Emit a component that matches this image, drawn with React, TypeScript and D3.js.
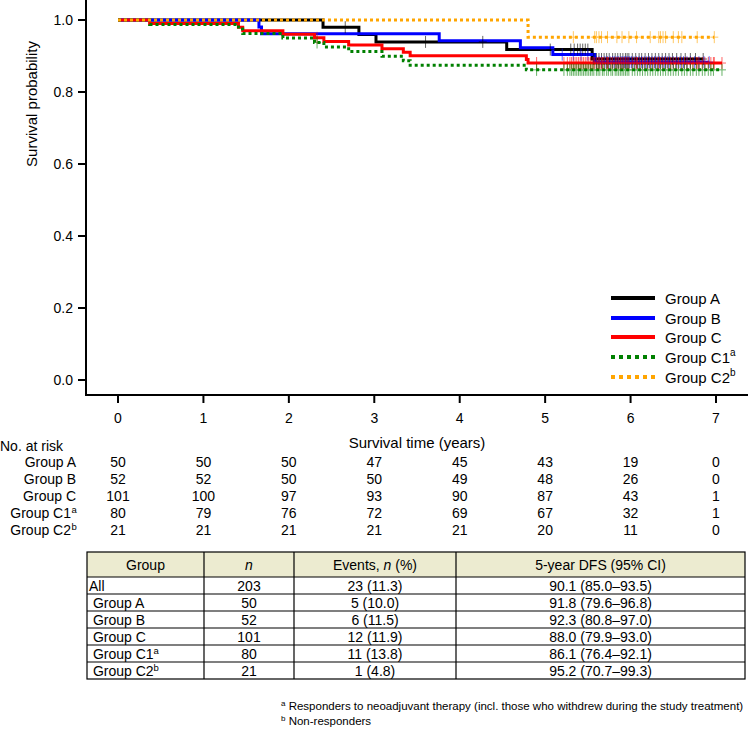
import React from "react";
import * as d3 from "d3";

// ---------- data ----------
const groupNames = ["Group A", "Group B", "Group C", "Group C1", "Group C2"];
const groupSups = ["", "", "", "a", "b"];
const groupColors = ["#000000", "#0000ff", "#ff0000", "#008000", "#ffa500"];
const groupDotted = [false, false, false, true, true];

const eventsA = [2.40, 2.82, 3.02, 4.55, 5.55];
const censorA = [2.66, 3.60, 4.27,
  5.06, 5.30, 5.34, 5.38, 5.41, 5.44, 5.47, 5.50, 5.57, 5.60, 5.63, 5.66, 5.69, 5.72, 5.75, 5.79, 5.82, 5.85, 5.88, 5.91, 5.94, 5.96, 5.98,
  6.02, 6.06, 6.10, 6.13, 6.17, 6.21, 6.25, 6.29, 6.33, 6.37, 6.41, 6.45, 6.49, 6.54, 6.59, 6.64, 6.70, 6.76, 6.85];

const eventsB = [1.65, 1.68, 3.76, 4.71, 5.09, 5.58];
const censorB = [5.20, 5.33, 5.42, 5.50,
  5.60, 5.63, 5.66, 5.70, 5.73, 5.76, 5.79, 5.81, 5.84, 5.86, 5.89, 5.91, 5.93, 5.95, 5.97, 5.99,
  6.01, 6.04, 6.07, 6.10, 6.13, 6.16, 6.19, 6.22, 6.25, 6.28, 6.31, 6.34, 6.37, 6.40, 6.43, 6.46, 6.50, 6.54, 6.58, 6.62, 6.66, 6.70, 6.75, 6.80, 6.86, 6.92];

const eventsC1 = [0.37, 1.41, 1.46, 1.93, 2.30, 2.41, 2.70, 3.09, 3.34, 3.42, 4.78];
const censorC1 = [2.33, 4.90,
  5.22, 5.26, 5.29, 5.31, 5.33, 5.35, 5.37, 5.39, 5.41, 5.43, 5.45, 5.47, 5.49, 5.51, 5.53, 5.55, 5.57, 5.60, 5.62, 5.64, 5.67, 5.69, 5.72, 5.74, 5.77, 5.79, 5.82, 5.84, 5.86, 5.88, 5.90, 5.92, 5.94, 5.96, 5.98,
  6.02, 6.05, 6.08, 6.11, 6.14, 6.17, 6.20, 6.23, 6.26, 6.29, 6.32, 6.35, 6.38, 6.41, 6.44, 6.47, 6.50, 6.53, 6.56, 6.60, 6.63, 6.66, 6.70, 6.73, 6.77, 6.80, 6.84, 6.87, 6.91, 6.94, 6.97,
  7.07];

const eventsC2 = [4.80];
const censorC2 = [5.33, 5.58, 5.60, 5.63, 5.66, 5.73, 5.84, 5.90, 5.98,
  6.07, 6.23, 6.33, 6.35, 6.38, 6.41, 6.50, 6.56, 6.60, 6.78, 6.98];

// Group C = C1 + C2
const eventsC = [...eventsC1, ...eventsC2];
const censorC = [...censorC1, ...censorC2];

const groupEvents = [eventsA, eventsB, eventsC, eventsC1, eventsC2];
const groupCensor = [censorA, censorB, censorC, censorC1, censorC2];

const xTicks = [0, 1, 2, 3, 4, 5, 6, 7];
const yTicks = [0, 0.2, 0.4, 0.6, 0.8, 1.0];

const atRisk = [
  [50, 50, 50, 47, 45, 43, 19, 0],
  [52, 52, 50, 50, 49, 48, 26, 0],
  [101, 100, 97, 93, 90, 87, 43, 1],
  [80, 79, 76, 72, 69, 67, 32, 1],
  [21, 21, 21, 21, 21, 20, 11, 0],
];

const tableHeaders = ["Group", "n", "Events, n (%)", "5-year DFS (95% CI)"];
const tableLabels = ["All", " Group A", " Group B", " Group C", " Group C1", " Group C2"];
const tableSups = ["", "", "", "", "a", "b"];
const tableN = ["203", "50", "52", "101", "80", "21"];
const tableEvents = ["23 (11.3)", "5 (10.0)", "6 (11.5)", "12 (11.9)", "11 (13.8)", "1 (4.8)"];
const tableDFS = ["90.1 (85.0–93.5)", "91.8 (79.6–96.8)", "92.3 (80.8–97.0)", "88.0 (79.9–93.0)", "86.1 (76.4–92.1)", "95.2 (70.7–99.3)"];

const footnotes = [
  { sup: "a", text: " Responders to neoadjuvant therapy (incl. those who withdrew during the study treatment)" },
  { sup: "b", text: " Non-responders" },
];

// ---------- KM ----------
function kaplanMeier(events: number[], censors: number[]) {
  const times = Array.from(new Set([...events, ...censors])).sort((a, b) => a - b);
  let n = events.length + censors.length;
  let s = 1;
  const pts: [number, number][] = [[0, 1]];
  const marks: [number, number][] = [];
  for (const t of times) {
    const d = events.filter((e) => e === t).length;
    const c = censors.filter((e) => e === t).length;
    if (d > 0) {
      s = s * (n - d) / n;
      pts.push([t, s]);
    }
    if (c > 0) marks.push([t, s]);
    n -= d + c;
  }
  const tEnd = times[times.length - 1];
  pts.push([tEnd, s]);
  return { pts, marks };
}

const FONT = "'Liberation Sans', Arial, Helvetica, sans-serif";

export default function App() {
  const x = d3.scaleLinear().domain([0, 7]).range([118, 716]);
  const y = d3.scaleLinear().domain([0, 1]).range([380, 20]);
  const line = d3.line<[number, number]>().x((d) => x(d[0])).y((d) => y(d[1])).curve(d3.curveStepAfter);

  const curves = groupNames.map((_, i) => kaplanMeier(groupEvents[i], groupCensor[i]));

  const axisY = 395;
  const legendX1 = 611, legendX2 = 655;
  const legendYs = [298, 318, 337, 357, 377];
  const riskYs = [462, 479, 496, 513, 530];

  const colX = [87, 204, 294, 456, 745];
  const headTop = 552, headBot = 577, rowH = 17;
  const fs = 14;

  return (
    <svg width={750} height={729} style={{ position: "absolute", left: 0, top: 0, background: "#fff" }}
      fontFamily={FONT}>
      {/* curves */}
      {curves.map((c, i) => (
        <g key={i}>
          <path d={line(c.pts) || ""} fill="none" stroke={groupColors[i]} strokeWidth={3}
            strokeDasharray={groupDotted[i] ? "3,3" : undefined} />
        </g>
      ))}
      {curves.map((c, i) => (
        <g key={"m" + i} stroke={groupColors[i]} strokeWidth={1} opacity={0.6}>
          {c.marks.map((m, j) => (
            <g key={j}>
              <line x1={x(m[0])} x2={x(m[0])} y1={y(m[1]) - 6} y2={y(m[1]) + 6} />
              <line x1={x(m[0]) - 4} x2={x(m[0]) + 4} y1={y(m[1])} y2={y(m[1])} />
            </g>
          ))}
        </g>
      ))}

      {/* y axis */}
      <line x1={86} x2={86} y1={0} y2={axisY + 1} stroke="#000" strokeWidth={2} />
      {yTicks.map((t) => (
        <g key={t}>
          <line x1={78} x2={86} y1={y(t)} y2={y(t)} stroke="#000" strokeWidth={2} />
          <text x={73} y={y(t)} textAnchor="end" dominantBaseline="central" fontSize={fs}>{d3.format(".1f")(t)}</text>
        </g>
      ))}
      <text transform={`translate(31,104) rotate(-90)`} textAnchor="middle" dominantBaseline="central" fontSize={15}>Survival probability</text>

      {/* x axis */}
      <line x1={85} x2={748} y1={axisY} y2={axisY} stroke="#000" strokeWidth={2} />
      {xTicks.map((t) => (
        <g key={t}>
          <line x1={x(t)} x2={x(t)} y1={axisY} y2={axisY + 8} stroke="#000" strokeWidth={2} />
          <text x={x(t)} y={418} textAnchor="middle" dominantBaseline="central" fontSize={fs}>{t}</text>
        </g>
      ))}
      <text x={x(3.5)} y={442} textAnchor="middle" dominantBaseline="central" fontSize={15}>Survival time (years)</text>

      {/* legend */}
      {groupNames.map((g, i) => (
        <g key={g}>
          <line x1={legendX1} x2={legendX2} y1={legendYs[i]} y2={legendYs[i]} stroke={groupColors[i]} strokeWidth={4}
            strokeDasharray={groupDotted[i] ? "4,4" : undefined} />
          <text x={665} y={legendYs[i]} dominantBaseline="central" fontSize={15}>
            {g}{groupSups[i] && <tspan fontSize={10} dy={-5}>{groupSups[i]}</tspan>}
          </text>
        </g>
      ))}

      {/* number at risk */}
      <text x={0} y={446} dominantBaseline="central" fontSize={fs}>No. at risk</text>
      {groupNames.map((g, i) => (
        <g key={"r" + g}>
          <text x={groupSups[i] ? 71 : 76} y={riskYs[i]} textAnchor="end" dominantBaseline="central" fontSize={fs}>{g}</text>
          {groupSups[i] && <text x={71.5} y={riskYs[i] - 4} dominantBaseline="central" fontSize={9.5}>{groupSups[i]}</text>}
          {atRisk[i].map((v, j) => (
            <text key={j} x={x(xTicks[j])} y={riskYs[i]} textAnchor="middle" dominantBaseline="central" fontSize={fs}>{v}</text>
          ))}
        </g>
      ))}

      {/* table */}
      <rect x={colX[0]} y={headTop} width={colX[4] - colX[0]} height={headBot - headTop} fill="#ecebd0" />
      <rect x={colX[0]} y={headTop} width={colX[4] - colX[0]} height={headBot - headTop + rowH * tableLabels.length}
        fill="none" stroke="#000" strokeWidth={1.2} />
      {colX.slice(1, 4).map((cx) => (
        <line key={cx} x1={cx} x2={cx} y1={headTop} y2={headBot + rowH * tableLabels.length} stroke="#000" strokeWidth={1.2} />
      ))}
      {tableLabels.map((_, i) => (
        <line key={"h" + i} x1={colX[0]} x2={colX[4]} y1={headBot + rowH * i} y2={headBot + rowH * i} stroke="#000" strokeWidth={1.2} />
      ))}
      <text x={(colX[0] + colX[1]) / 2} y={(headTop + headBot) / 2} textAnchor="middle" dominantBaseline="central" fontSize={fs}>{tableHeaders[0]}</text>
      <text x={(colX[1] + colX[2]) / 2} y={(headTop + headBot) / 2} textAnchor="middle" dominantBaseline="central" fontSize={fs} fontStyle="italic">{tableHeaders[1]}</text>
      <text x={(colX[2] + colX[3]) / 2} y={(headTop + headBot) / 2} textAnchor="middle" dominantBaseline="central" fontSize={fs}>
        Events, <tspan fontStyle="italic">n</tspan> (%)
      </text>
      <text x={(colX[3] + colX[4]) / 2} y={(headTop + headBot) / 2} textAnchor="middle" dominantBaseline="central" fontSize={fs}>{tableHeaders[3]}</text>
      {tableLabels.map((lab, i) => {
        const cy = headBot + rowH * i + rowH / 2;
        return (
          <g key={"t" + i}>
            <text x={colX[0] + 2} y={cy} dominantBaseline="central" fontSize={fs} style={{ whiteSpace: "pre" }}>
              {lab}{tableSups[i] && <tspan fontSize={9.5} dy={-4}>{tableSups[i]}</tspan>}
            </text>
            <text x={(colX[1] + colX[2]) / 2} y={cy} textAnchor="middle" dominantBaseline="central" fontSize={fs}>{tableN[i]}</text>
            <text x={(colX[2] + colX[3]) / 2} y={cy} textAnchor="middle" dominantBaseline="central" fontSize={fs}>{tableEvents[i]}</text>
            <text x={(colX[3] + colX[4]) / 2} y={cy} textAnchor="middle" dominantBaseline="central" fontSize={fs}>{tableDFS[i]}</text>
          </g>
        );
      })}

      {/* footnotes */}
      {footnotes.map((f, i) => (
        <text key={f.sup} x={281} y={706 + i * 15} dominantBaseline="central" fontSize={11.5} style={{ whiteSpace: "pre" }}>
          <tspan fontSize={8} dy={-3}>{f.sup}</tspan><tspan dy={3}>{f.text}</tspan>
        </text>
      ))}
    </svg>
  );
}
